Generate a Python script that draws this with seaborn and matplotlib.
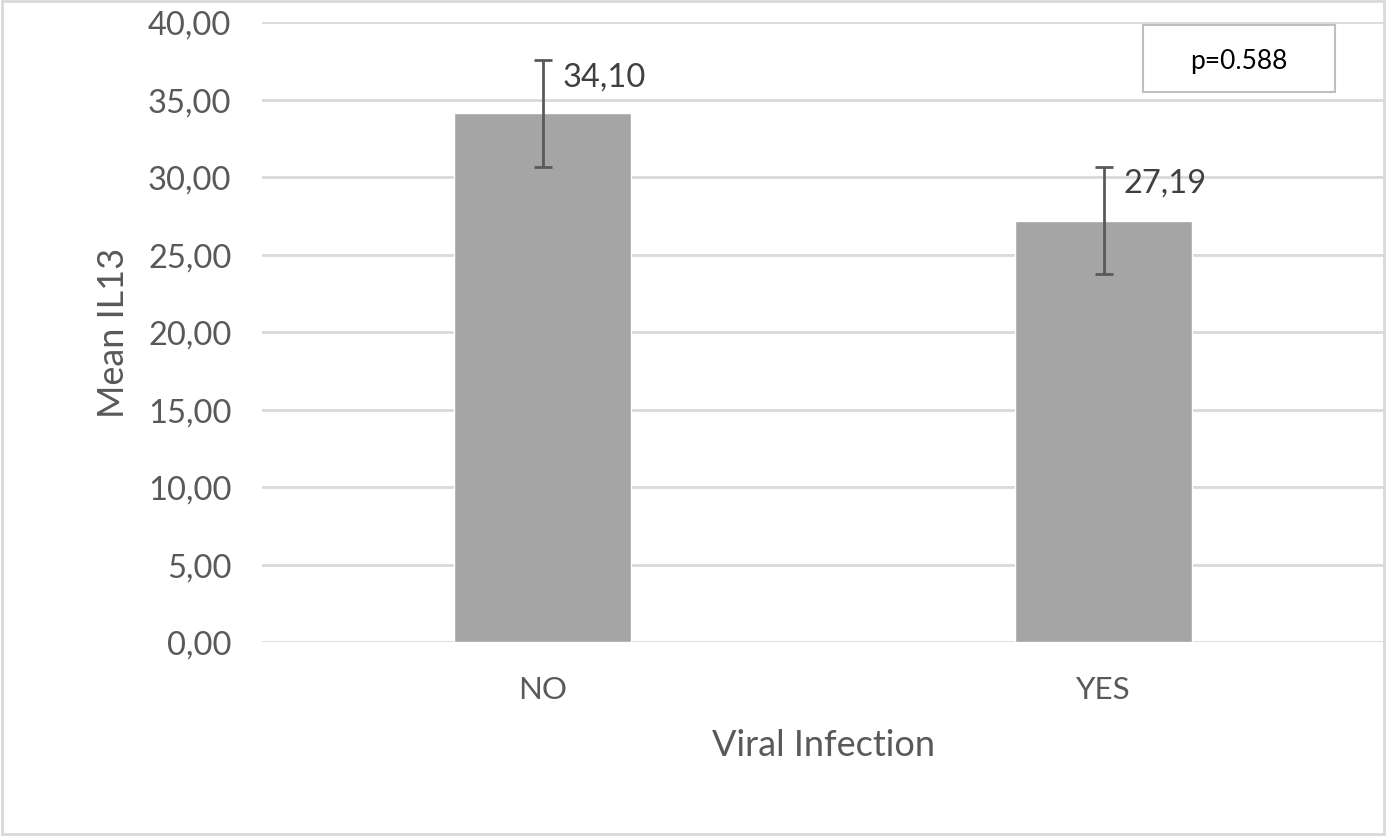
import matplotlib
matplotlib.use("Agg")
import matplotlib.pyplot as plt
import pandas as pd
import seaborn as sns
from matplotlib.patches import Rectangle

# values
groups = ["NO", "YES"]
means = [34.10, 27.19]
errors = [3.43, 3.47]
mean_labels = ["34,10", "27,19"]
y_ticks = [0, 5, 10, 15, 20, 25, 30, 35, 40]
y_tick_labels = ["0,00", "5,00", "10,00", "15,00", "20,00", "25,00", "30,00", "35,00", "40,00"]
p_text = "p=0.588"

sns.set_theme(style="white")
plt.rcParams["font.family"] = ["Lato", "DejaVu Sans"]

text_grey = "#595959"
grid_grey = "#d9d9d9"

df = pd.DataFrame({"group": groups, "mean": means})

W, H = 1388, 837
fig = plt.figure(figsize=(W / 100, H / 100), dpi=100)
ax = fig.add_axes([262 / W, (H - 643) / H, (1384 - 262) / W, (643 - 23) / H])

sns.barplot(data=df, x="group", y="mean", color="#a5a5a5", saturation=1,
            width=0.314, errorbar=None, ax=ax, zorder=2)
ax.errorbar(range(len(groups)), means, yerr=errors, fmt="none",
            ecolor=text_grey, elinewidth=2, capsize=6.5, capthick=2, zorder=3)

for i, (v, e, lab) in enumerate(zip(means, errors, mean_labels)):
    ax.annotate(lab, xy=(i, v + e), xytext=(20, -16), textcoords="offset pixels",
                ha="left", va="center", fontsize=23.5, color="#404040")

ax.set_ylim(0, 40)
ax.set_xlim(-0.5, 1.5)
ax.set_yticks(y_ticks)
ax.set_yticklabels(y_tick_labels, fontsize=23.5, color=text_grey)
ax.tick_params(axis="x", labelsize=22.5, labelcolor=text_grey, pad=24, length=0)
ax.tick_params(axis="y", pad=22, length=0)
for t in y_ticks:
    ax.axhline(t, color=grid_grey, lw=2, zorder=1)
for s in ax.spines.values():
    s.set_visible(False)

ax.set_xlabel("Viral Infection", fontsize=26, color=text_grey, labelpad=18)
ax.set_ylabel("Mean IL13", fontsize=26, color=text_grey, labelpad=13)

# p-value box
fig.patches.append(Rectangle((1143 / W, (H - 93) / H), (1335 - 1143) / W, (93 - 26) / H,
                             transform=fig.transFigure, fill=False,
                             edgecolor="#bfbfbf", lw=1.5))
fig.text(1239 / W, (H - 61) / H, p_text, ha="center", va="center",
         fontsize=19, color="black")

# chart border
fig.patches.append(Rectangle((2 / W, 2 / H), (1384 - 2) / W, (835 - 2) / H,
                             transform=fig.transFigure, fill=False,
                             edgecolor=grid_grey, lw=2))

fig.savefig("out.png", dpi=100)
